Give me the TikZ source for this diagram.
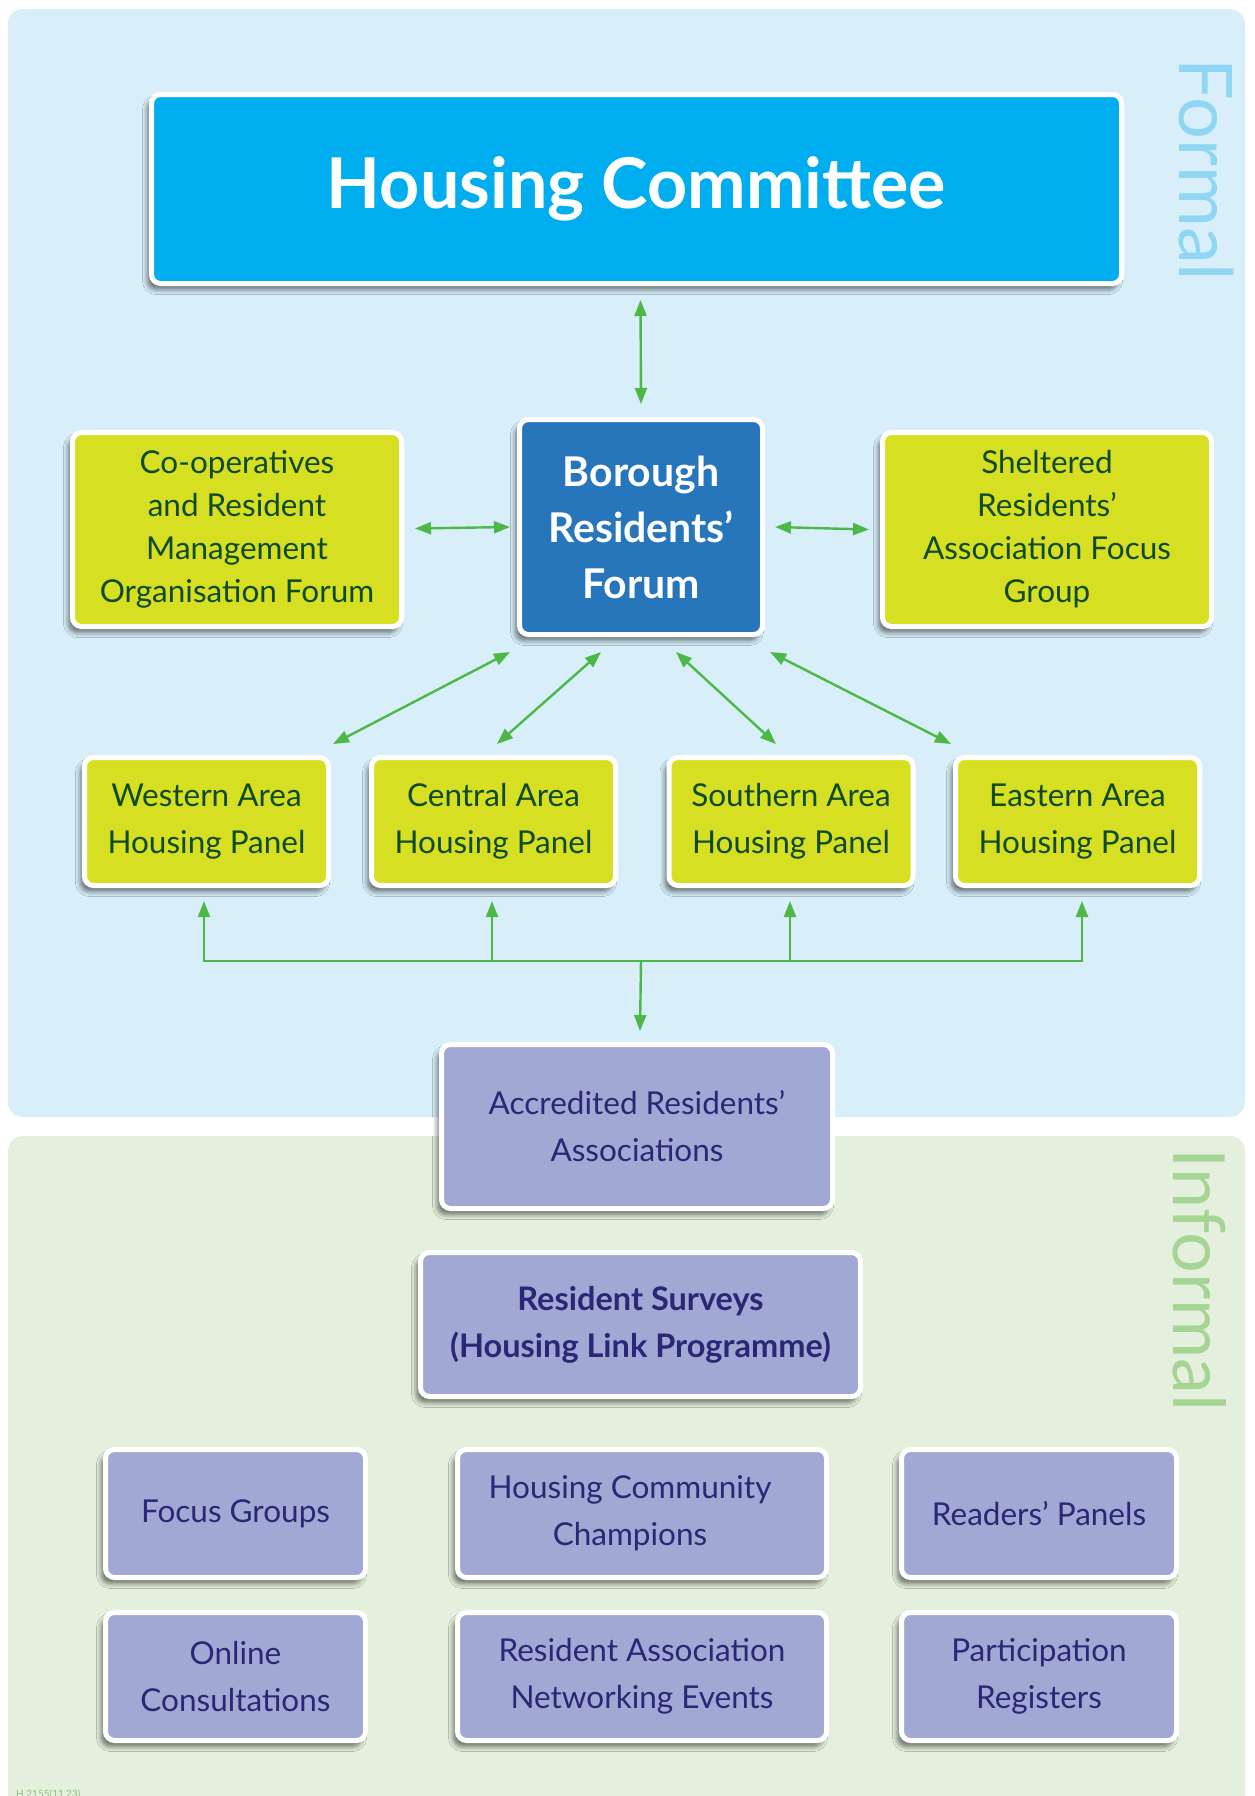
\documentclass[tikz,border=0pt]{standalone}
\usepackage{fontspec}
\setmainfont{Lato}
\usetikzlibrary{arrows.meta,shadows.blur}
\definecolor{formalbg}{HTML}{D8EFF9}
\definecolor{informalbg}{HTML}{E4F0DD}
\definecolor{hcblue}{HTML}{00AEEF}
\definecolor{brfblue}{HTML}{2776BB}
\definecolor{ybox}{HTML}{D7DF23}
\definecolor{ytext}{HTML}{0E4B23}
\definecolor{pbox}{HTML}{A1A8D3}
\definecolor{ptext}{HTML}{2B2676}
\definecolor{agreen}{HTML}{4DB848}
\definecolor{formaltxt}{HTML}{8FD5F4}
\definecolor{informaltxt}{HTML}{A5D495}
\definecolor{foottxt}{HTML}{8CC07A}
\begin{document}
\begin{tikzpicture}[x=1pt,y=-1pt,
  >={Triangle[length=16pt,width=12pt]},
  panelbg/.style={rounded corners=15pt},
  box/.style={rounded corners=9pt, draw=white, line width=5pt, align=center, inner sep=0pt,
    blur shadow={shadow xshift=-4pt, shadow yshift=-6pt, shadow opacity=55, shadow blur steps=6, shadow blur radius=5pt}},
  yellowbox/.style={box, fill=ybox, text=ytext, font=\fontsize{31.5}{43}\selectfont},
  panelbox/.style={yellowbox, minimum width=244pt, minimum height=128pt, font=\fontsize{31.5}{47}\selectfont},
  purplebox/.style={box, fill=pbox, text=ptext, font=\fontsize{31.5}{47}\selectfont},
  garrow/.style={draw=agreen, line width=2.4pt},
  sidetext/.style={rotate=-90, inner sep=0pt}
]
\useasboundingbox (0,0) rectangle (1255,1796);
% panels
\fill[formalbg, panelbg] (8,9) rectangle (1245,1117);
\fill[informalbg, panelbg] (8,1136) rectangle (1245,1830);
\node[sidetext, text=formaltxt, font=\fontsize{74}{80}\selectfont] (formal) at (1206,170) {Formal};
\node[sidetext, text=informaltxt, font=\fontsize{72}{80}\selectfont] (informal) at (1200,1280) {Informal};

% formal boxes
\node[box, fill=hcblue, text=white, minimum width=970pt, minimum height=189pt,
  font=\bfseries\fontsize{70}{80}\selectfont] (hc) at (636.5,189) {Housing Committee};
\node[box, fill=brfblue, text=white, minimum width=243pt, minimum height=215pt,
  font=\bfseries\fontsize{41}{56}\selectfont] (brf) at (641,527) {Borough\\Residents’\\Forum};
\node[yellowbox, minimum width=329pt, minimum height=194pt] (coop) at (237,529.5)
  {Co-operatives\\and Resident\\Management\\Organisation Forum};
\node[yellowbox, minimum width=329pt, minimum height=194pt] (shelt) at (1047,529.5)
  {Sheltered\\Residents’\\Association Focus\\Group};
\node[panelbox] (west) at (206.5,821.5) {Western Area\\Housing Panel};
\node[panelbox] (cent) at (493.5,821.5) {Central Area\\Housing Panel};
\node[panelbox] (south) at (791,821.5) {Southern Area\\Housing Panel};
\node[panelbox] (east) at (1077.5,821.5) {Eastern Area\\Housing Panel};

% informal boxes
\node[purplebox, minimum width=391pt, minimum height=164pt] (ara) at (637,1126.5)
  {Accredited Residents’\\Associations};
\node[purplebox, minimum width=440pt, minimum height=144pt,
  font=\bfseries\fontsize{32.5}{47}\selectfont] (rs) at (640.5,1324.5)
  {Resident Surveys\\(Housing Link Programme)};
\node[purplebox, minimum width=260pt, minimum height=128pt] (focus) at (235.5,1513.5) {Focus Groups};
\node[purplebox, minimum width=369pt, minimum height=128pt] (hcc) at (642,1513.5)
  {\hspace*{-24pt}Housing Community\\\hspace*{-24pt}Champions};
\node[purplebox, minimum width=275pt, minimum height=128pt] (readers) at (1039,1513.5) {Readers’ Panels};
\node[purplebox, minimum width=260pt, minimum height=128pt] (online) at (235.5,1676.5) {Online\\Consultations};
\node[purplebox, minimum width=369pt, minimum height=128pt] (rane) at (642,1676.5)
  {Resident Association\\Networking Events};
\node[purplebox, minimum width=275pt, minimum height=128pt] (partreg) at (1039,1676.5)
  {Participation\\Registers};

\node[anchor=base west, inner sep=0pt, text=foottxt, font=\fontsize{10}{12}\selectfont] (foot) at (16,1797) {H 2155(11.23)};

% connectors
\draw[garrow, <->] ([shift={(4,14)}]hc.south) -- ([shift={(0,-13)}]brf.north);
\draw[garrow, <->] ([shift={(11,-1)}]coop.east) -- ([shift={(-7,0)}]brf.west);
\draw[garrow, <->] ([shift={(10,0)}]brf.east) -- ([shift={(-11,0)}]shelt.west);
\draw[garrow, <->] ([shift={(2,-11)}]west.north east) -- ([shift={(-7,15)}]brf.south west);
\draw[garrow, <->] ([shift={(3.5,-11)}]cent.north) -- ([shift={(-40,15)}]brf.south);
\draw[garrow, <->] ([shift={(-15,-11)}]south.north) -- ([shift={(35,15)}]brf.south);
\draw[garrow, <->] ([shift={(-2,-11)}]east.north west) -- ([shift={(5,15)}]brf.south east);

\coordinate (bus) at (641,961);
\coordinate (wt) at ([shift={(-2.5,13)}]west.south);
\coordinate (ct) at ([shift={(-1.5,13)}]cent.south);
\coordinate (stt) at ([shift={(-1,13)}]south.south);
\coordinate (et) at ([shift={(4.5,13)}]east.south);
\draw[garrow, <->] (wt) -- (wt |- bus) -- (et |- bus) -- (et);
\draw[garrow, ->] (ct |- bus) -- (ct);
\draw[garrow, ->] (stt |- bus) -- (stt);
\draw[garrow, ->] (bus) -- ([shift={(3,-11)}]ara.north);
\end{tikzpicture}
\end{document}
